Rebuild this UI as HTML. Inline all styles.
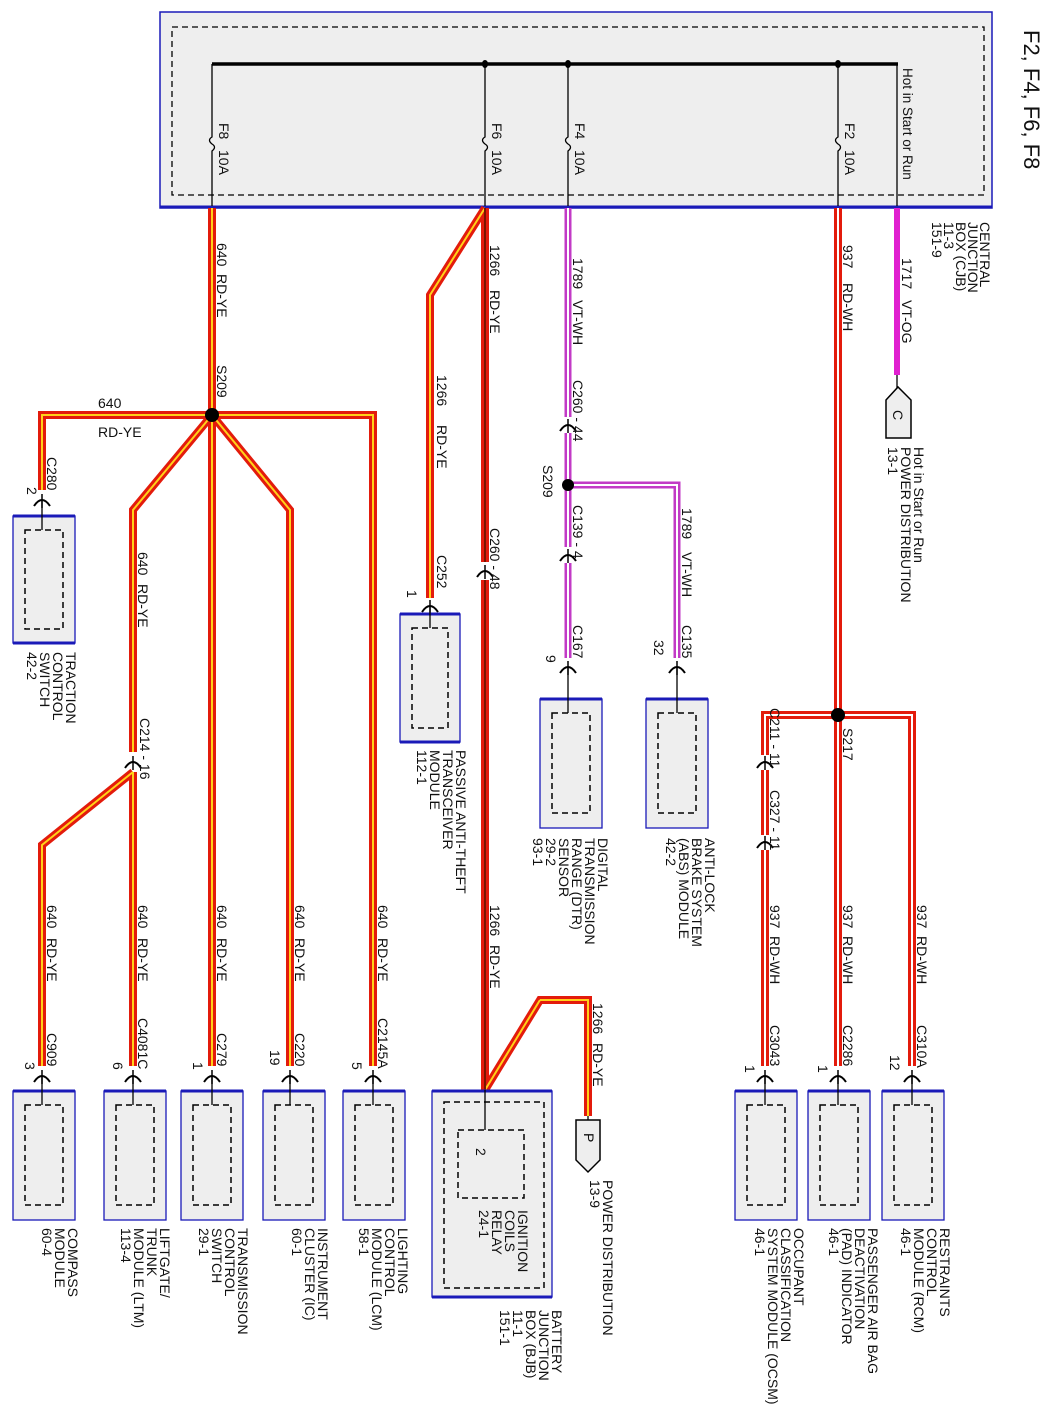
<!DOCTYPE html>
<html><head><meta charset="utf-8"><style>
html,body{margin:0;padding:0;background:#fff}
svg{display:block}
text{font-family:"Liberation Sans",Arial,sans-serif;font-size:14px;fill:#111}
</style></head><body>
<svg width="1050" height="1414" viewBox="0 0 1050 1414" xmlns="http://www.w3.org/2000/svg">
<defs>
<g id="con"><path d="M-8 6 Q0 -6 8 6" fill="none" stroke="#000" stroke-width="2"/><line x1="0" y1="-6" x2="0" y2="8" stroke="#000" stroke-width="1.5"/></g>
</defs>

<rect x="160" y="12" width="832" height="196" fill="#eeeeee" stroke="#1a1ab8" stroke-width="1.5"/>
<line x1="160" y1="207" x2="992" y2="207" stroke="#1a1ab8" stroke-width="3"/>
<rect x="172" y="27" width="812" height="168" fill="none" stroke="#000" stroke-width="1.3" stroke-dasharray="6,4"/>
<line x1="212" y1="64" x2="898" y2="64" stroke="#000" stroke-width="3.5"/>
<g stroke="#000" stroke-width="1.3" fill="none">
<path d="M212 64 V137 q-5 3 0 7 q5 3 0 7 V206"/>
<path d="M485 64 V137 q-5 3 0 7 q5 3 0 7 V206"/>
<path d="M568 64 V137 q-5 3 0 7 q5 3 0 7 V206"/>
<path d="M838 64 V137 q-5 3 0 7 q5 3 0 7 V206"/>
<path d="M897 64 V206"/>
</g>
<g fill="#000"><ellipse cx="485" cy="64" rx="3" ry="4"/><ellipse cx="568" cy="64" rx="3" ry="4"/><ellipse cx="838" cy="64" rx="3" ry="4"/></g>

<g>
<text transform="translate(1024,30) rotate(90)" style="font-size:22px">F2, F4, F6, F8</text>
<text transform="translate(903,68) rotate(90)" style="font-size:13.5px">Hot in Start or Run</text>
<text transform="translate(219,123) rotate(90)">F8</text><text transform="translate(219,150) rotate(90)">10A</text>
<text transform="translate(492,123) rotate(90)">F6</text><text transform="translate(492,150) rotate(90)">10A</text>
<text transform="translate(575,123) rotate(90)">F4</text><text transform="translate(575,150) rotate(90)">10A</text>
<text transform="translate(845,123) rotate(90)">F2</text><text transform="translate(845,150) rotate(90)">10A</text>
<text transform="translate(980,222) rotate(90)"><tspan x="0">CENTRAL</tspan><tspan x="0" dy="12">JUNCTION</tspan><tspan x="0" dy="12">BOX (CJB)</tspan><tspan x="0" dy="12">11-3</tspan><tspan x="0" dy="12">151-9</tspan></text>
</g>

<g fill="none" stroke-linejoin="miter">
<g stroke="#e31b0c" stroke-width="8">
<path d="M212 208 V1066"/>
<path d="M42 490 V415 H373 V1066"/>
<path d="M212 415 L133 510 V752"/>
<path d="M133 772 V1066"/>
<path d="M133 772 L42 845 V1066"/>
<path d="M212 415 L290 510 V1066"/>
<path d="M485 208 L430 295 V598"/>
<path d="M485 208 V562"/>
<path d="M485 580 V1090"/>
<path d="M485 1090 L540 1000 H588 V1116"/>
</g>
<g stroke="#ffd21a" stroke-width="2">
<path d="M212 208 V1066"/>
<path d="M42 490 V415 H373 V1066"/>
<path d="M212 415 L133 510 V752"/>
<path d="M133 772 V1066"/>
<path d="M133 772 L42 845 V1066"/>
<path d="M212 415 L290 510 V1066"/>
<path d="M485 208 L430 295 V598"/>
<path d="M540 1000 H588 V1116"/>
<path d="M485 1090 L540 1000"/>
</g>
<path d="M485 208 V562" stroke="#7a1500" stroke-width="2"/>
<path d="M485 580 V1090" stroke="#7a1500" stroke-width="2"/>

<g stroke="#e31b0c" stroke-width="8">
<path d="M838 208 V1066"/>
<path d="M765 755 V715 H912 V1066"/>
<path d="M765 770 V835"/>
<path d="M765 850 V1066"/>
</g>
<g stroke="#ffffff" stroke-width="2">
<path d="M838 208 V1066"/>
<path d="M765 755 V715 H912 V1066"/>
<path d="M765 770 V835"/>
<path d="M765 850 V1066"/>
</g>

<g stroke="#c23ac6" stroke-width="7">
<path d="M568 208 V417"/><path d="M568 433 V547"/><path d="M568 563 V658"/><path d="M568 485 H677 V658"/>
</g>
<g stroke="#ffffff" stroke-width="2">
<path d="M568 208 V417"/><path d="M568 433 V547"/><path d="M568 563 V658"/><path d="M568 485 H677 V658"/>
</g>
<path d="M897 208 V375" stroke="#e020d0" stroke-width="6"/>
<path d="M897 375 V388" stroke="#000" stroke-width="1.3"/>
</g>

<g fill="#000"><circle cx="212" cy="415" r="7"/><circle cx="568" cy="485" r="6"/><circle cx="838" cy="715" r="7"/></g>

<use href="#con" x="42" y="500"/>
<use href="#con" x="133" y="762"/>
<use href="#con" x="430" y="606"/>
<use href="#con" x="485" y="571"/>
<use href="#con" x="568" y="425"/>
<use href="#con" x="568" y="555"/>
<use href="#con" x="568" y="667"/>
<use href="#con" x="677" y="667"/>
<use href="#con" x="765" y="762"/>
<use href="#con" x="765" y="842"/>
<use href="#con" x="42" y="1076"/><use href="#con" x="133" y="1076"/><use href="#con" x="212" y="1076"/><use href="#con" x="290" y="1076"/><use href="#con" x="373" y="1076"/>
<use href="#con" x="765" y="1076"/><use href="#con" x="838" y="1076"/><use href="#con" x="912" y="1076"/>

<g stroke-width="1.3">
<g fill="#eeeeee" stroke="#1a1ab8">
<rect x="13" y="516" width="62" height="127"/>
<rect x="400" y="614" width="60" height="128"/>
<rect x="540" y="699" width="62" height="129"/>
<rect x="646" y="699" width="62" height="129"/>
<rect x="13" y="1091" width="62" height="129"/>
<rect x="104" y="1091" width="62" height="129"/>
<rect x="181" y="1091" width="62" height="129"/>
<rect x="263" y="1091" width="62" height="129"/>
<rect x="343" y="1091" width="62" height="129"/>
<rect x="432" y="1091" width="120" height="206"/>
<rect x="735" y="1091" width="62" height="129"/>
<rect x="808" y="1091" width="62" height="129"/>
<rect x="882" y="1091" width="62" height="129"/>
</g>
<g stroke="#1a1ab8" stroke-width="3">
<line x1="13" y1="516" x2="75" y2="516"/><line x1="400" y1="614" x2="460" y2="614"/><line x1="540" y1="699" x2="602" y2="699"/><line x1="646" y1="699" x2="708" y2="699"/>
<line x1="13" y1="1091" x2="75" y2="1091"/><line x1="104" y1="1091" x2="166" y2="1091"/><line x1="181" y1="1091" x2="243" y2="1091"/><line x1="263" y1="1091" x2="325" y2="1091"/><line x1="343" y1="1091" x2="405" y2="1091"/><line x1="432" y1="1091" x2="552" y2="1091"/><line x1="735" y1="1091" x2="797" y2="1091"/><line x1="808" y1="1091" x2="870" y2="1091"/><line x1="882" y1="1091" x2="944" y2="1091"/>
<line x1="13" y1="643" x2="75" y2="643"/><line x1="400" y1="742" x2="460" y2="742"/><line x1="432" y1="1297" x2="552" y2="1297"/>
</g>
<g fill="none" stroke="#000" stroke-dasharray="6,4" stroke-width="1.5">
<rect x="25" y="530" width="38" height="99"/>
<rect x="412" y="628" width="36" height="100"/>
<rect x="552" y="713" width="38" height="100"/>
<rect x="658" y="713" width="38" height="100"/>
<rect x="25" y="1105" width="38" height="100"/>
<rect x="116" y="1105" width="38" height="100"/>
<rect x="193" y="1105" width="38" height="100"/>
<rect x="275" y="1105" width="38" height="100"/>
<rect x="355" y="1105" width="38" height="100"/>
<rect x="444" y="1102" width="100" height="186"/>
<rect x="458" y="1130" width="66" height="68"/>
<rect x="747" y="1105" width="38" height="100"/>
<rect x="820" y="1105" width="38" height="100"/>
<rect x="894" y="1105" width="38" height="100"/>
</g>
<g stroke="#000" stroke-width="1.3">
<line x1="42" y1="500" x2="42" y2="530"/><line x1="430" y1="606" x2="430" y2="628"/>
<line x1="568" y1="667" x2="568" y2="713"/><line x1="677" y1="667" x2="677" y2="713"/>
<line x1="42" y1="1076" x2="42" y2="1105"/><line x1="133" y1="1076" x2="133" y2="1105"/><line x1="212" y1="1076" x2="212" y2="1105"/><line x1="290" y1="1076" x2="290" y2="1105"/><line x1="373" y1="1076" x2="373" y2="1105"/>
<line x1="485" y1="1090" x2="485" y2="1130"/>
<line x1="765" y1="1076" x2="765" y2="1105"/><line x1="838" y1="1076" x2="838" y2="1105"/><line x1="912" y1="1076" x2="912" y2="1105"/>
<line x1="588" y1="1116" x2="588" y2="1120"/>
</g>
<path d="M886 400 L898 387 L911 400 V438 H886 Z" fill="#eeeeee" stroke="#000" stroke-width="1.5"/>
<path d="M576 1120 H600 V1160 L588 1172 L576 1160 Z" fill="#eeeeee" stroke="#000" stroke-width="1.5"/>
</g>

<g>
<text transform="translate(217,243) rotate(90)">640</text><text transform="translate(217,274) rotate(90)">RD-YE</text>
<text transform="translate(217,365) rotate(90)">S209</text>
<text x="98" y="408">640</text><text x="98" y="437">RD-YE</text>
<text transform="translate(47,457) rotate(90)">C280</text><text transform="translate(27,487) rotate(90)">2</text>
<text transform="translate(66,652) rotate(90)"><tspan x="0">TRACTION</tspan><tspan x="0" dy="13">CONTROL</tspan><tspan x="0" dy="13">SWITCH</tspan><tspan x="0" dy="13">42-2</tspan></text>
<text transform="translate(138,552) rotate(90)">640</text><text transform="translate(138,584) rotate(90)">RD-YE</text>
<text transform="translate(140,718) rotate(90)">C214 - 16</text>

<text transform="translate(47,905) rotate(90)">640</text><text transform="translate(47,938) rotate(90)">RD-YE</text>
<text transform="translate(138,905) rotate(90)">640</text><text transform="translate(138,938) rotate(90)">RD-YE</text>
<text transform="translate(217,905) rotate(90)">640</text><text transform="translate(217,938) rotate(90)">RD-YE</text>
<text transform="translate(295,905) rotate(90)">640</text><text transform="translate(295,938) rotate(90)">RD-YE</text>
<text transform="translate(378,905) rotate(90)">640</text><text transform="translate(378,938) rotate(90)">RD-YE</text>
<text transform="translate(47,1033) rotate(90)">C909</text>
<text transform="translate(138,1018) rotate(90)">C4081C</text>
<text transform="translate(217,1033) rotate(90)">C279</text>
<text transform="translate(295,1033) rotate(90)">C220</text>
<text transform="translate(378,1018) rotate(90)">C2145A</text>
<text transform="translate(25,1062) rotate(90)">3</text>
<text transform="translate(113,1062) rotate(90)">6</text>
<text transform="translate(193,1062) rotate(90)">1</text>
<text transform="translate(270,1050) rotate(90)">19</text>
<text transform="translate(352,1062) rotate(90)">5</text>

<text transform="translate(68,1228) rotate(90)"><tspan x="0">COMPASS</tspan><tspan x="0" dy="13">MODULE</tspan><tspan x="0" dy="13">60-4</tspan></text>
<text transform="translate(160,1228) rotate(90)"><tspan x="0">LIFTGATE/</tspan><tspan x="0" dy="13">TRUNK</tspan><tspan x="0" dy="13">MODULE (LTM)</tspan><tspan x="0" dy="13">113-4</tspan></text>
<text transform="translate(238,1228) rotate(90)"><tspan x="0">TRANSMISSION</tspan><tspan x="0" dy="13">CONTROL</tspan><tspan x="0" dy="13">SWITCH</tspan><tspan x="0" dy="13">29-1</tspan></text>
<text transform="translate(318,1228) rotate(90)"><tspan x="0">INSTRUMENT</tspan><tspan x="0" dy="13">CLUSTER (IC)</tspan><tspan x="0" dy="13">60-1</tspan></text>
<text transform="translate(398,1228) rotate(90)"><tspan x="0">LIGHTING</tspan><tspan x="0" dy="13">CONTROL</tspan><tspan x="0" dy="13">MODULE (LCM)</tspan><tspan x="0" dy="13">58-1</tspan></text>

<text transform="translate(437,375) rotate(90)">1266</text><text transform="translate(437,425) rotate(90)">RD-YE</text>
<text transform="translate(437,555) rotate(90)">C252</text><text transform="translate(407,590) rotate(90)">1</text>
<text transform="translate(456,750) rotate(90)"><tspan x="0">PASSIVE ANTI-THEFT</tspan><tspan x="0" dy="13">TRANSCEIVER</tspan><tspan x="0" dy="13">MODULE</tspan><tspan x="0" dy="13">112-1</tspan></text>

<text transform="translate(490,245) rotate(90)">1266</text><text transform="translate(490,290) rotate(90)">RD-YE</text>
<text transform="translate(490,528) rotate(90)">C260 - 48</text>
<text transform="translate(490,905) rotate(90)">1266</text><text transform="translate(490,945) rotate(90)">RD-YE</text>
<text transform="translate(593,1003) rotate(90)">1266</text><text transform="translate(593,1043) rotate(90)">RD-YE</text>
<text transform="translate(584,1133) rotate(90)">P</text>
<text transform="translate(603,1180) rotate(90)"><tspan x="0">POWER DISTRIBUTION</tspan><tspan x="0" dy="13">13-9</tspan></text>
<text transform="translate(476,1148) rotate(90)">2</text>
<text transform="translate(518,1210) rotate(90)"><tspan x="0">IGNITION</tspan><tspan x="0" dy="13">COILS</tspan><tspan x="0" dy="13">RELAY</tspan><tspan x="0" dy="13">24-1</tspan></text>
<text transform="translate(552,1310) rotate(90)"><tspan x="0">BATTERY</tspan><tspan x="0" dy="13">JUNCTION</tspan><tspan x="0" dy="13">BOX (BJB)</tspan><tspan x="0" dy="13">11-1</tspan><tspan x="0" dy="13">151-1</tspan></text>

<text transform="translate(573,258) rotate(90)">1789</text><text transform="translate(573,300) rotate(90)">VT-WH</text>
<text transform="translate(573,380) rotate(90)">C260 - 44</text>
<text transform="translate(543,465) rotate(90)">S209</text>
<text transform="translate(573,505) rotate(90)">C139 - 4</text>
<text transform="translate(573,625) rotate(90)">C167</text><text transform="translate(546,655) rotate(90)">9</text>
<text transform="translate(598,838) rotate(90)"><tspan x="0">DIGITAL</tspan><tspan x="0" dy="13">TRANSMISSION</tspan><tspan x="0" dy="13">RANGE (DTR)</tspan><tspan x="0" dy="13">SENSOR</tspan><tspan x="0" dy="13">29-2</tspan><tspan x="0" dy="13">93-1</tspan></text>
<text transform="translate(682,508) rotate(90)">1789</text><text transform="translate(682,552) rotate(90)">VT-WH</text>
<text transform="translate(682,625) rotate(90)">C135</text><text transform="translate(654,640) rotate(90)">32</text>
<text transform="translate(705,838) rotate(90)"><tspan x="0">ANTI-LOCK</tspan><tspan x="0" dy="13">BRAKE SYSTEM</tspan><tspan x="0" dy="13">(ABS) MODULE</tspan><tspan x="0" dy="13">42-2</tspan></text>

<text transform="translate(843,245) rotate(90)">937</text><text transform="translate(843,283) rotate(90)">RD-WH</text>
<text transform="translate(843,728) rotate(90)">S217</text>
<text transform="translate(770,708) rotate(90)">C211 - 11</text>
<text transform="translate(770,790) rotate(90)">C327 - 11</text>
<text transform="translate(770,905) rotate(90)">937</text><text transform="translate(770,936) rotate(90)">RD-WH</text>
<text transform="translate(843,905) rotate(90)">937</text><text transform="translate(843,936) rotate(90)">RD-WH</text>
<text transform="translate(917,905) rotate(90)">937</text><text transform="translate(917,936) rotate(90)">RD-WH</text>
<text transform="translate(770,1025) rotate(90)">C3043</text>
<text transform="translate(843,1025) rotate(90)">C2286</text>
<text transform="translate(917,1025) rotate(90)">C310A</text>
<text transform="translate(745,1065) rotate(90)">1</text>
<text transform="translate(818,1065) rotate(90)">1</text>
<text transform="translate(890,1055) rotate(90)">12</text>
<text transform="translate(794,1228) rotate(90)"><tspan x="0">OCCUPANT</tspan><tspan x="0" dy="13">CLASSIFICATION</tspan><tspan x="0" dy="13">SYSTEM MODULE (OCSM)</tspan><tspan x="0" dy="13">46-1</tspan></text>
<text transform="translate(868,1228) rotate(90)"><tspan x="0">PASSENGER AIR BAG</tspan><tspan x="0" dy="13">DEACTIVATION</tspan><tspan x="0" dy="13">(PAD) INDICATOR</tspan><tspan x="0" dy="13">46-1</tspan></text>
<text transform="translate(940,1228) rotate(90)"><tspan x="0">RESTRAINTS</tspan><tspan x="0" dy="13">CONTROL</tspan><tspan x="0" dy="13">MODULE (RCM)</tspan><tspan x="0" dy="13">46-1</tspan></text>

<text transform="translate(902,258) rotate(90)">1717</text><text transform="translate(902,300) rotate(90)">VT-OG</text>
<text transform="translate(893,410) rotate(90)">C</text>
<text transform="translate(914,447) rotate(90)"><tspan x="0">Hot in Start or Run</tspan><tspan x="0" dy="13">POWER DISTRIBUTION</tspan><tspan x="0" dy="13">13-1</tspan></text>
</g>
</svg>
</body></html>
